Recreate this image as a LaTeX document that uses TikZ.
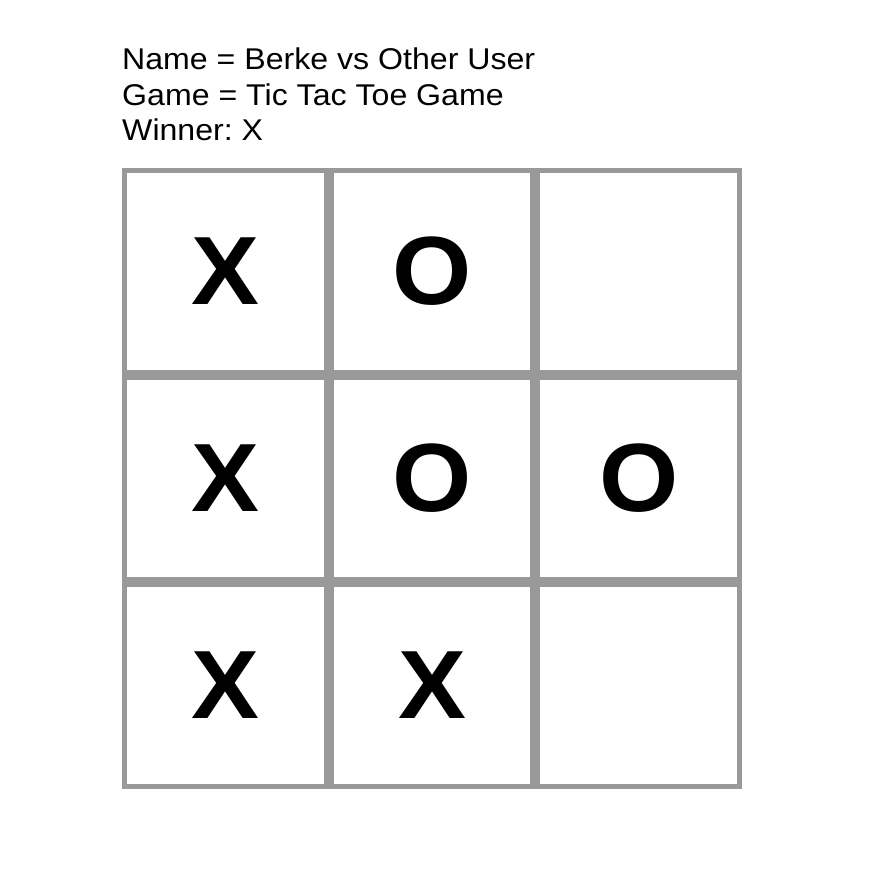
\documentclass[tikz,border=0pt]{standalone}
\usepackage{fontspec}
\setmainfont{Liberation Sans}
\newfontfamily\infofont[FakeStretch=1.07]{Liberation Sans}
\newfontfamily\markfont[FakeStretch=1.05]{Liberation Sans}
\usetikzlibrary{positioning}
\tikzstyle{info}=[anchor=base west,inner sep=0,font=\infofont\fontsize{30}{30}\selectfont\frenchspacing]
\tikzstyle{cell}=[draw=black!40,line width=5pt,minimum size=201.7pt,inner sep=0,
                  font=\markfont\fontsize{97}{97}\selectfont\bfseries]
\begin{document}
\begin{tikzpicture}[x=1pt,y=-1pt]
\useasboundingbox[fill=white] (0,0) rectangle (878,894);
\node[info] (name) at (122,69) {Name = Berke vs Other User};
\node[info] (game) at (122,105) {Game = Tic Tac Toe Game};
\node[info] (winner) at (122,140) {Winner: X};
% board
\foreach \r/\a/\b/\c in {1/X/O/,2/X/O/O,3/X/X/}{
  \node[cell] (c\r1) at (225.3,{168+(\r-0.5)*207}) {\a};
  \node[cell] (c\r2) at (432,{168+(\r-0.5)*207}) {\b};
  \node[cell] (c\r3) at (638.7,{168+(\r-0.5)*207}) {\c};
}
\end{tikzpicture}
\end{document}
